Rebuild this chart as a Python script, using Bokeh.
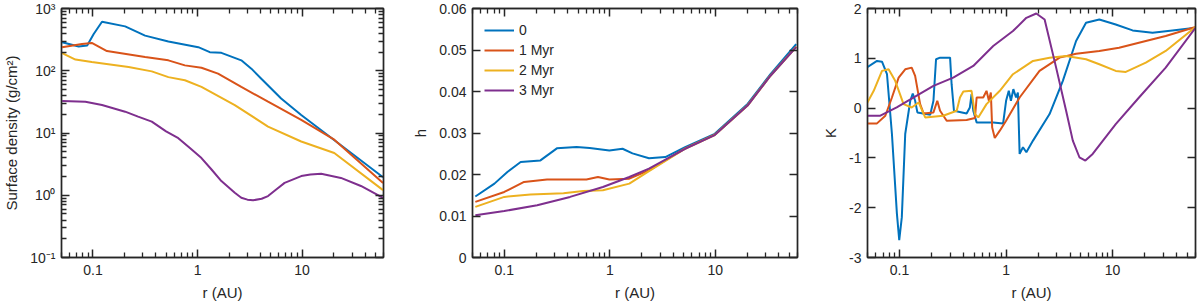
from bokeh.plotting import figure
from bokeh.layouts import row
from bokeh.models import (FixedTicker, CustomJSTickFormatter, LogAxis, LinearAxis,
                          Legend, LegendItem, Range1d)
from bokeh.embed import file_html
from bokeh.resources import INLINE

COLORS = ["#0072BD", "#D95319", "#EDB120", "#7E2F8E"]
LABELS = ["0", "1 Myr", "2 Myr", "3 Myr"]

# ---------------- Panel 1 : surface density ----------------
S0_r = [0.0507, 0.073, 0.088, 0.1016, 0.122, 0.203, 0.315, 0.526, 1.016, 1.31, 1.69, 2.62, 3.27, 4.07, 6.3, 9.8, 59.4]
S0_v = [287, 245, 254, 390, 614, 516, 367, 295, 239, 199, 194, 147, 108, 74.6, 35.9, 19.5, 1.95]
S1_r = [0.0507, 0.0785, 0.0974, 0.136, 0.315, 0.526, 0.757, 1.09, 1.57, 2.62, 4.72, 9.8, 20.3, 59.4]
S1_v = [239, 270, 280, 207, 166, 147, 122, 112, 89.8, 55, 31.8, 16.2, 7.8, 1.58]
S2_r = [0.0507, 0.068, 0.0974, 0.219, 0.365, 0.526, 0.757, 1.09, 2.27, 4.72, 9.8, 20.3, 59.4]
S2_v = [192, 151, 138, 115, 97.7, 79, 70.5, 55, 28, 12.7, 7.3, 4.77, 1.21]
S3_r = [0.0507, 0.0846, 0.122, 0.203, 0.27, 0.365, 0.5, 0.655, 0.845, 1.09, 1.36, 1.69, 2.27, 2.62, 3.0,
        3.4, 4.1, 4.72, 5.65, 6.8, 9.8, 12.0, 15.2, 23.5, 36.5, 59.4]
S3_v = [32.6, 31.8, 28.1, 22, 18.3, 15.2, 10.6, 8.26, 5.73, 3.96, 2.59, 1.69, 1.1, 0.914, 0.85,
        0.83, 0.88, 0.97, 1.24, 1.58, 2.03, 2.15, 2.21, 1.9, 1.41, 0.91]

# ---------------- Panel 2 : aspect ratio h ----------------
H0_r = [0.0532, 0.0807, 0.107, 0.143, 0.22, 0.315, 0.484, 0.645, 0.99, 1.32, 1.64, 2.35, 3.36, 5.17, 9.86, 20.2, 33.3, 58.3]
H0_v = [0.0147, 0.0178, 0.0206, 0.0230, 0.0234, 0.0263, 0.0266, 0.0264, 0.0258, 0.0262, 0.0251, 0.0239, 0.0242, 0.0266, 0.0298, 0.0370, 0.0442, 0.0514]
H1_r = [0.0532, 0.1, 0.154, 0.254, 0.6, 0.772, 0.99, 1.53, 2.35, 5.17, 9.86, 20.2, 33.3, 58.3]
H1_v = [0.0134, 0.0158, 0.0182, 0.0188, 0.0188, 0.0194, 0.0188, 0.0190, 0.0210, 0.0263, 0.0296, 0.0367, 0.0439, 0.0508]
H2_r = [0.0532, 0.1, 0.177, 0.364, 0.56, 0.86, 1.53, 2.35, 5.17, 9.86, 20.2, 33.3, 58.3]
H2_v = [0.0122, 0.0146, 0.0152, 0.0155, 0.0160, 0.0162, 0.0178, 0.0208, 0.0262, 0.0295, 0.0366, 0.0438, 0.0507]
H3_r = [0.0532, 0.1, 0.205, 0.42, 0.86, 1.53, 2.35, 5.17, 9.86, 20.2, 33.3, 58.3]
H3_v = [0.0102, 0.0112, 0.0126, 0.0146, 0.0170, 0.0194, 0.0214, 0.0262, 0.0295, 0.0366, 0.0438, 0.0507]

# ---------------- Panel 3 : K ----------------
K0_r = [0.049, 0.0614, 0.0684, 0.0762, 0.0848, 0.0944, 0.0993, 0.105, 0.113, 0.126, 0.133, 0.14, 0.147,
        0.194, 0.208, 0.22, 0.24, 0.298, 0.308, 0.324, 0.426, 0.457, 0.474, 0.492, 0.529, 0.757, 0.938,
        1.0, 1.06, 1.11, 1.17, 1.24, 1.29, 1.34, 1.44, 1.55, 1.79, 2.56, 3.41, 4.54, 5.63, 7.5, 10.7,
        15.4, 23.7, 36.4, 60]
K0_v = [0.813, 0.947, 0.933, 0.68, -0.52, -2.12, -2.65, -2.19, -0.52, 0.147, 0.293, 0.147, -0.087,
        -0.133, 0.147, 0.98, 1.013, 1.013, 0.48, -0.053, -0.107, 0.013, 0.28, -0.053, -0.287, -0.287, -0.307,
        0.147, 0.347, 0.147, 0.38, 0.213, 0.313, -0.92, -0.787, -0.887, -0.653, -0.12, 0.547, 1.347, 1.713, 1.78, 1.68,
        1.56, 1.513, 1.56, 1.613]
K1_r = [0.049, 0.0614, 0.0735, 0.0848, 0.098, 0.113, 0.13, 0.14, 0.156, 0.168, 0.208, 0.226, 0.24, 0.277,
        0.426, 0.51, 0.529, 0.61, 0.655, 0.69, 0.719, 0.74, 0.783, 0.873, 1.0, 1.34, 2.06, 3.18, 4.54, 7.5,
        11.5, 20.5, 31.5, 60]
K1_v = [-0.307, -0.307, -0.153, 0.213, 0.613, 0.78, 0.813, 0.647, 0.08, -0.107, -0.087, 0.147, -0.053, -0.253,
        -0.24, -0.2, 0.213, 0.213, 0.347, 0.147, 0.313, -0.387, -0.6, -0.453, -0.253, 0.213, 0.747, 1.013, 1.093, 1.147,
        1.213, 1.347, 1.447, 1.627]
K2_r = [0.049, 0.0572, 0.0684, 0.0789, 0.091, 0.109, 0.13, 0.151, 0.174, 0.257, 0.344, 0.369, 0.397, 0.474,
        0.51, 0.548, 0.655, 0.873, 1.16, 1.79, 2.56, 3.66, 5.63, 7.5, 10.7, 13.3, 20.5, 31.5, 60]
K2_v = [0.08, 0.347, 0.747, 0.78, 0.547, 0.08, 0.013, 0.113, -0.187, -0.153, -0.053, 0.213, 0.333, 0.347,
        -0.12, -0.187, 0.08, 0.347, 0.68, 0.947, 1.013, 1.047, 0.98, 0.88, 0.747, 0.727, 0.913, 1.147, 1.627]
K3_r = [0.049, 0.066, 0.094, 0.208, 0.319, 0.492, 0.757, 1.16, 1.55, 1.92, 2.3, 2.95, 3.66, 4.23, 4.88,
        5.55, 6.5, 10.7, 17.7, 31.5, 60]
K3_v = [-0.153, -0.153, 0.013, 0.447, 0.613, 0.847, 1.247, 1.547, 1.813, 1.9, 1.78, 0.813, -0.053, -0.653, -0.987,
        -1.053, -0.92, -0.32, 0.213, 0.813, 1.613]

# ---------------- axes ----------------
X_LIM = (0.05, 60)
S_LIM = (0.1, 1000)
H_LIM = (0, 0.06)
K_LIM = (-3, 2)
X_MAJOR = [0.1, 1, 10]
X_MINOR = [0.05, 0.06, 0.07, 0.08, 0.09, 0.2, 0.3, 0.4, 0.5, 0.6, 0.7, 0.8, 0.9,
           2, 3, 4, 5, 6, 7, 8, 9, 20, 30, 40, 50, 60]
S_MAJOR = [0.1, 1, 10, 100, 1000]
S_MINOR = [m * d for d in [0.1, 1, 10, 100] for m in range(2, 10)]
H_TICKS = [0, 0.01, 0.02, 0.03, 0.04, 0.05, 0.06]
K_TICKS = [-3, -2, -1, 0, 1, 2]

FONT = "Liberation Sans"
AX = "#262626"
FH = 249

XFMT = "return tick < 1 ? tick.toFixed(1) : tick.toFixed(0);"
SFMT = """const e = Math.round(Math.log10(tick));
const sup = {'-':'\u207b','0':'\u2070','1':'\u00b9','2':'\u00b2','3':'\u00b3'};
return '10' + String(e).split('').map(c => sup[c]).join('');"""
HFMT = "return Math.abs(tick) < 1e-9 ? '0' : tick.toFixed(2);"
EMPTY = "return '';"


def style_axis(ax, labels=True):
    ax.axis_line_color = AX
    ax.axis_line_width = 1.4
    ax.major_tick_line_color = AX
    ax.minor_tick_line_color = AX
    ax.major_tick_line_width = 1.5
    ax.minor_tick_line_width = 1.3
    ax.major_tick_in = 8
    ax.major_tick_out = 0
    ax.minor_tick_in = 5
    ax.minor_tick_out = 0
    ax.major_label_text_font = FONT
    ax.major_label_text_font_size = "14px"
    ax.major_label_text_color = AX
    ax.axis_label_text_font = FONT
    ax.axis_label_text_font_size = "15px"
    ax.axis_label_text_font_style = "normal"
    ax.axis_label_text_color = AX
    if not labels:
        ax.major_label_standoff = 0
        ax.formatter = CustomJSTickFormatter(code=EMPTY)


def make_fig(y_type, ylim, fw, bl, br, yticks, yminor, yfmt, ylabel):
    p = figure(x_axis_type="log", y_axis_type=y_type,
               x_range=Range1d(*X_LIM), y_range=Range1d(*ylim),
               frame_width=fw, frame_height=FH,
               min_border_left=bl, min_border_right=br,
               min_border_top=8, min_border_bottom=47,
               output_backend="svg", toolbar_location=None)
    p.grid.visible = False
    p.outline_line_color = AX
    p.outline_line_width = 1.4
    xt = FixedTicker(ticks=X_MAJOR, minor_ticks=X_MINOR)
    yt = FixedTicker(ticks=yticks, minor_ticks=yminor)
    p.xaxis.ticker = xt
    p.xaxis.formatter = CustomJSTickFormatter(code=XFMT)
    p.xaxis.axis_label = "r (AU)"
    p.xaxis.major_label_standoff = 7
    p.xaxis.axis_label_standoff = 6
    p.yaxis.ticker = yt
    p.yaxis.formatter = CustomJSTickFormatter(code=yfmt)
    p.yaxis.axis_label = ylabel
    p.yaxis.major_label_standoff = 6
    p.yaxis.axis_label_standoff = 7
    for ax in p.xaxis + p.yaxis:
        style_axis(ax)
    top = LogAxis(ticker=xt)
    style_axis(top, labels=False)
    p.add_layout(top, "above")
    right = LogAxis(ticker=yt) if y_type == "log" else LinearAxis(ticker=yt)
    style_axis(right, labels=False)
    p.add_layout(right, "right")
    return p


p1 = make_fig("log", S_LIM, 322, 60, 10, S_MAJOR, S_MINOR, SFMT,
              "Surface density (g/cm\u00b2)")
for xs, ys, c in zip([S0_r, S1_r, S2_r, S3_r], [S0_v, S1_v, S2_v, S3_v], COLORS):
    p1.line(xs, ys, color=c, line_width=2)

p2 = make_fig("linear", H_LIM, 325, 79, 10, H_TICKS, [], HFMT, "h")
rends = []
for xs, ys, c in zip([H0_r, H1_r, H2_r, H3_r], [H0_v, H1_v, H2_v, H3_v], COLORS):
    rends.append(p2.line(xs, ys, color=c, line_width=2))
legend = Legend(items=[LegendItem(label=l, renderers=[r]) for l, r in zip(LABELS, rends)],
                location="top_left", border_line_alpha=0, background_fill_alpha=0,
                label_text_font=FONT, label_text_font_size="14px", label_text_color=AX,
                glyph_width=30, glyph_height=20, label_height=20, spacing=0,
                padding=6, margin=6, label_standoff=5)
p2.add_layout(legend)

p3 = make_fig("linear", K_LIM, 328, 60, 4, K_TICKS, [], "return tick.toFixed(0);", "K")
for xs, ys, c in zip([K0_r, K1_r, K2_r, K3_r], [K0_v, K1_v, K2_v, K3_v], COLORS):
    p3.line(xs, ys, color=c, line_width=2)

layout = row(p1, p2, p3)
open("out.html", "w").write(file_html(layout, INLINE))
